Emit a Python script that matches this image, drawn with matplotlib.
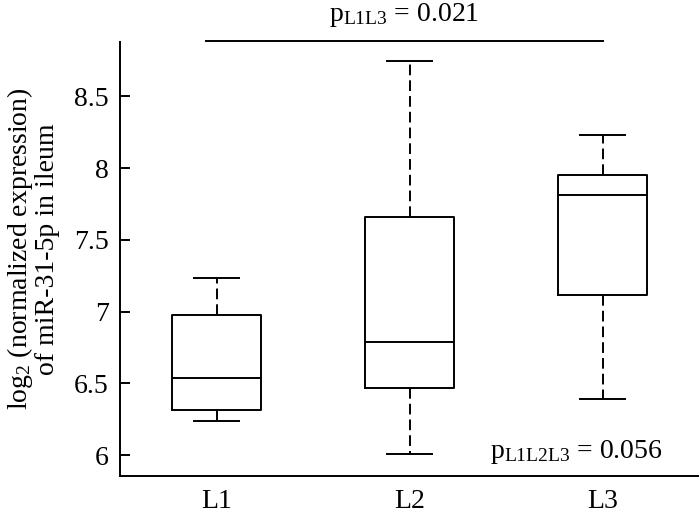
import matplotlib
matplotlib.use("Agg")
import matplotlib.pyplot as plt

plt.rcParams.update({
    "font.family": ["Liberation Serif", "DejaVu Serif"],
    "mathtext.fontset": "custom",
    "mathtext.rm": "Liberation Serif",
    "mathtext.it": "Liberation Serif:italic",
    "font.size": 20,
})

# summary statistics
groups = ["L1", "L2", "L3"]
whislo = [6.237, 6.005, 6.393]
q1 = [6.314, 6.465, 7.116]
med = [6.537, 6.790, 7.810]
q3 = [6.974, 7.662, 7.955]
whishi = [7.236, 8.750, 8.231]

yticks = [6, 6.5, 7, 7.5, 8, 8.5]
ytick_labels = ["6", "6.5", "7", "7.5", "8", "8.5"]

p_pair = "0.021"
p_all = "0.056"

stats = [dict(label=g, whislo=a, q1=b, med=c, q3=d, whishi=e, fliers=[])
         for g, a, b, c, d, e in zip(groups, whislo, q1, med, q3, whishi)]

fig = plt.figure(figsize=(6.99, 5.14), dpi=100)
ax = fig.add_axes([0.1717, 0.0739, 0.8283, 0.8444])

lw = 1.4
ax.bxp(stats, positions=[1, 2, 3], widths=0.46, capwidths=0.23,
       showfliers=False,
       boxprops=dict(color="black", linewidth=lw),
       medianprops=dict(color="black", linewidth=lw),
       whiskerprops=dict(color="black", linewidth=lw, linestyle=(0, (5.5, 2.6))),
       capprops=dict(color="black", linewidth=lw))

ax.set_xlim(0.5, 3.5)
ax.set_ylim(5.854, 8.880)
ax.set_yticks(yticks, ytick_labels)
ax.tick_params(axis="y", direction="in", length=7, width=lw, pad=8, labelsize=20)
ax.tick_params(axis="x", length=0, pad=9, labelsize=20)

for sp in ["top", "right"]:
    ax.spines[sp].set_visible(False)
for sp in ["left", "bottom"]:
    ax.spines[sp].set_linewidth(lw)

# significance bar between L1 and L3
ax.plot([0.946, 3.0], [8.889, 8.889], color="black", lw=lw, clip_on=False)
ax.text(1.97, 8.97, r"$\mathrm{p}_{\mathrm{L1L3}}$ = " + p_pair,
        ha="center", va="bottom", fontsize=20)
ax.text(2.863, 6.02, r"$\mathrm{p}_{\mathrm{L1L2L3}}$ = " + p_all,
        ha="center", va="center", fontsize=20)

fig.text(0.046, 0.516, "log$_2$ (normalized expression)\nof miR-31-5p in ileum",
         rotation=90, ha="center", va="center", fontsize=20, linespacing=1.0)

fig.savefig("out.png", dpi=100)
